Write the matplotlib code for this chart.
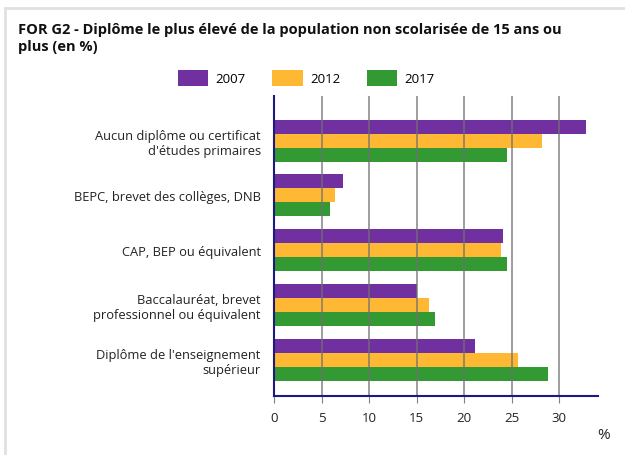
import numpy as np
import matplotlib.pyplot as plt
from matplotlib.patches import Rectangle, Patch

plt.rcParams['font.family'] = ['Open Sans', 'DejaVu Sans']

categories = ["Aucun diplôme ou certificat\nd'études primaires",
              "BEPC, brevet des collèges, DNB",
              "CAP, BEP ou équivalent",
              "Baccalauréat, brevet\nprofessionnel ou équivalent",
              "Diplôme de l'enseignement\nsupérieur"]
years = ["2007", "2012", "2017"]
v2007 = [32.8, 7.3, 24.1, 15.1, 21.2]
v2012 = [28.2, 6.4, 23.9, 16.3, 25.7]
v2017 = [24.5, 5.9, 24.5, 16.9, 28.8]
colors = ["#7030a0", "#ffb833", "#339933"]

fig = plt.figure(figsize=(6.25, 4.56), dpi=100)
ax = fig.add_axes([0.4384, 0.1294, 0.5184, 0.6576])

y = np.arange(len(categories))
h = 0.255
for k, vals in enumerate([v2007, v2012, v2017]):
    ax.barh(y + (k - 1) * h, vals, height=h, color=colors[k], zorder=2)

ax.set_xlim(0, 34.1)
ax.set_ylim(4.66, -0.81)
ax.set_xticks(range(0, 35, 5))
ax.set_yticks(y)
ax.set_yticklabels(categories, fontsize=9.25, color="#222222")
ax.tick_params(axis='y', length=0, pad=9.5)
ax.tick_params(axis='x', length=5, color="#808080", labelsize=9.5, pad=6, labelcolor="#222222")
ax.grid(axis='x', color="#707070", linewidth=1.2, alpha=0.8, zorder=3)
ax.set_axisbelow(False)
for s in ['top', 'right']:
    ax.spines[s].set_visible(False)
for s in ['left', 'bottom']:
    ax.spines[s].set_color("#1a1a80")
    ax.spines[s].set_linewidth(1.5)
    ax.spines[s].set_zorder(4)

fig.text(0.029, 0.915, "FOR G2 - Diplôme le plus élevé de la population non scolarisée de 15 ans ou\nplus (en %)",
         fontsize=10.5, fontweight='bold', va='center', ha='left', linespacing=1.3, color="#111111")

handles = [Patch(facecolor=c) for c in colors]
fig.legend(handles, years, loc='center', bbox_to_anchor=(0.49, 0.827), ncol=3, frameon=False,
           fontsize=9.5, handlelength=2.3, handleheight=1.4, handletextpad=0.55, columnspacing=2.0)

fig.text(0.966, 0.028, "%", fontsize=11, ha='center', va='bottom', color="#222222")

fig.add_artist(Rectangle((0.008, -0.1), 1.2, 1.08, transform=fig.transFigure,
                         fill=False, edgecolor="#e0e0e0", linewidth=2))

fig.savefig("out.png", dpi=100)
